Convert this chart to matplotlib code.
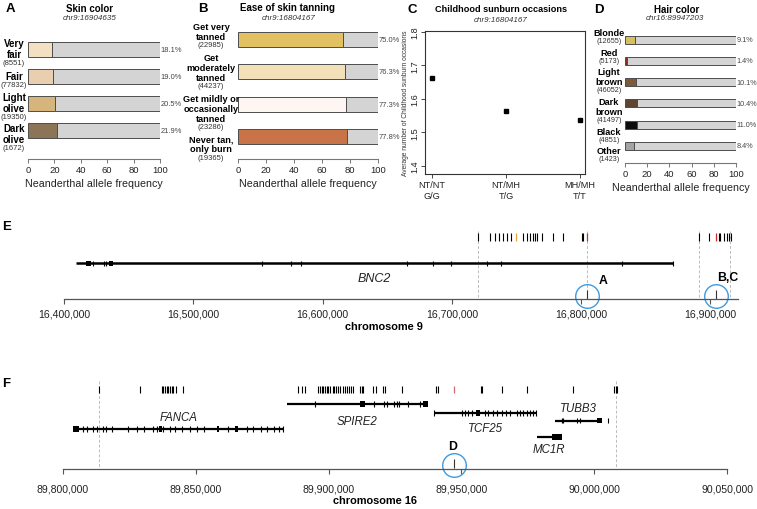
import numpy as np
import matplotlib
matplotlib.use('Agg')
import matplotlib.pyplot as plt
from matplotlib.patches import Rectangle
from matplotlib.ticker import FuncFormatter

plt.rcParams['font.family'] = ['Liberation Sans', 'DejaVu Sans']

W, H = 757, 510
GREY_BAR = '#d4d4d4'
EDGE = '#4d4d4d'
CIRCLE = '#3d9be0'

# ---- A: skin colour ----
skin_labels = ['Very\nfair', 'Fair', 'Light\nolive', 'Dark\nolive']
skin_counts = [8551, 77832, 19350, 1672]
skin_freq = [18.1, 19.0, 20.5, 21.9]
skin_colors = ['#f3dfc1', '#e9cfb0', '#d5b57b', '#8c7456']

# ---- B: ease of tanning ----
tan_labels = ['Get very\ntanned', 'Get\nmoderately\ntanned',
              'Get mildly or\noccasionally\ntanned', 'Never tan,\nonly burn']
tan_counts = [22985, 44237, 23286, 19365]
tan_freq = [75.0, 76.3, 77.3, 77.8]
tan_colors = ['#e2c163', '#f4e0b8', '#fdf6f3', '#c87448']

# ---- C: childhood sunburn ----
sunburn_groups = ['NT/NT\nG/G', 'NT/MH\nT/G', 'MH/MH\nT/T']
sunburn_mean = [1.664, 1.565, 1.538]

# ---- D: hair colour ----
hair_labels = ['Blonde', 'Red', 'Light\nbrown', 'Dark\nbrown', 'Black', 'Other']
hair_counts = [12655, 5173, 46052, 41497, 4851, 1423]
hair_freq = [9.1, 1.4, 10.1, 10.4, 11.0, 8.4]
hair_colors = ['#d8bf5e', '#8b2e22', '#7d5a38', '#5c4632', '#0d0d0d', '#a3a3a3']

# ---- E: chromosome 9 ----
chr9_ticks = [16400000, 16500000, 16600000, 16700000, 16800000, 16900000]
bnc2_span = (16409300, 16870800)
bnc2_exons = [16422200, 16430900, 16432500, 16552900, 16575600, 16583300, 16665000,
              16685400, 16699100, 16727400, 16738000, 16831800, 16870800]
bnc2_blocks = [(16417000, 16420900), (16434800, 16437900)]
chr9_snps = [16719950, 16729470, 16733340, 16736660, 16739750, 16742850, 16745710,
             16754760, 16757850, 16760400, 16762490, 16764270, 16765590, 16769920,
             16778430, 16786160, 16800390, 16801630, 16891110, 16898840, 16906300,
             16907600, 16910300, 16912900, 16914700, 16916200]
chr9_orange = [16749580]
chr9_red = [16804167, 16904635]
chr9_bounds = [16719950, 16804167, 16891360, 16915100]
chr9_hits = [16804167, 16904635]
chr9_hit_labels = ['A', 'B,C']

# ---- F: chromosome 16 ----
chr16_ticks = [89800000, 89850000, 89900000, 89950000, 90000000, 90050000]
fanca_span = (89803760, 89883250)
fanca_exons = [89807520, 89809250, 89811290, 89813020, 89815050, 89816290, 89818430,
               89824680, 89827840, 89830590, 89833860, 89835590, 89837850, 89840370,
               89842250, 89844770, 89847890, 89850410, 89853160, 89862300, 89869220,
               89871700, 89874490, 89876740, 89879490, 89881490, 89882760]
fanca_blocks = [(89803760, 89806250), (89836340, 89837240), (89857930, 89858910),
                (89864820, 89866060)]
spire2_span = (89884270, 89937540)
spire2_exons = [89894920, 89917110, 89920990, 89922110, 89924640, 89925650,
                89926630, 89930010, 89934420]
spire2_blocks = [(89911850, 89913730), (89935660, 89937540)]
tcf25_span = (89939800, 89978060)
tcf25_exons = [89939800, 89950100, 89951350, 89952590, 89953870, 89958870, 89960110,
               89962000, 89963270, 89965150, 89966770, 89968270, 89970800, 89972040,
               89973280, 89974560, 89975800, 89977040, 89978060]
tcf25_blocks = [(89955480, 89956990)]
mc1r_span = (89978320, 89987720)
mc1r_exons = []
mc1r_blocks = [(89983960, 89987720)]
tubb3_span = (89985200, 90002770)
tubb3_exons = [89987720, 89988330, 89993370, 89994610, 90005260]
tubb3_blocks = [(90000890, 90002770)]
chr16_snps = [89813770, 89829080, 89837240, 89837850, 89838490, 89839120, 89839730,
              89840370, 89841010, 89841610, 89842620, 89845140, 89888630, 89889910,
              89891150, 89896040, 89896680, 89897440, 89898040, 89898680, 89899320,
              89899920, 89900560, 89901570, 89902060, 89902810, 89903680, 89904320,
              89905340, 89906200, 89906840, 89907820, 89908460, 89909100, 89911850,
              89912480, 89913090, 89916620, 89917860, 89920610, 89921250, 89927530,
              89940440, 89941300, 89957250, 89957630, 89965150, 89974560, 89992090,
              90007510, 90008040, 90008530]
chr16_red = [89947203]
chr16_bounds = [89813770, 90008160]
chr16_hits = [89947203]
chr16_hit_labels = ['D']


fig = plt.figure(figsize=(W / 100, H / 100), dpi=100)


def px_axes(x0, y0, x1, y1):
    return fig.add_axes([x0 / W, 1 - y1 / H, (x1 - x0) / W, (y1 - y0) / H])


def ftext(x, y, s, **kw):
    kw.setdefault('ha', 'center')
    kw.setdefault('va', 'center')
    fig.text(x / W, 1 - y / H, s, **kw)


def allele_panel(box, first_c, step, bar_px, label_cx, labels, counts, freq, colors,
                 lh, ch, shift=0, stack=None, min_gap=None, name_fs=7, count_fs=5.5,
                 ls=1.2, pct_fs=5.4):
    x0, y0, x1, y1 = box
    ax = px_axes(x0, y0, x1, y1)
    pos = np.arange(len(freq))
    freq = np.asarray(freq)
    h = bar_px / step
    ax.barh(pos, freq, height=h, color=colors, edgecolor=EDGE, linewidth=0.7)
    ax.barh(pos, 100 - freq, left=freq, height=h, color=GREY_BAR, edgecolor=EDGE, linewidth=0.7)
    ax.set_xlim(0, 100)
    ax.set_ylim((y1 - first_c) / step, -(first_c - y0) / step)
    for s in ['left', 'top', 'right']:
        ax.spines[s].set_visible(False)
    ax.spines['bottom'].set_color('#777')
    ax.spines['bottom'].set_linewidth(0.8)
    ax.set_yticks([])
    ax.set_xticks(np.arange(0, 101, 20))
    ax.tick_params(axis='x', length=3, width=0.7, color='#777', labelsize=6.8, pad=1,
                   labelcolor='#222')
    ax.set_xlabel('Neanderthal allele frequency', fontsize=7.7, labelpad=3, color='#222')
    unit = 100 / (x1 - x0)
    lx = (label_cx - x0) * unit
    top = stack[0] if stack else None
    prev_bottom = -1e9
    for p, lab, n, f in zip(pos, labels, counts, freq):
        ax.text(100 + 0.8 * unit, p, f'{f:.1f}%', ha='left', va='center',
                fontsize=pct_fs, color='#444', clip_on=False)
        nl = lab.count('\n') + 1
        block = nl * lh + ch
        if stack:
            btop = top
            top += block + stack[1]
        else:
            btop = first_c + p * step + shift - block / 2
            if min_gap is not None:
                btop = max(btop, prev_bottom + min_gap)
            prev_bottom = btop + block
        anchor = (btop + nl * lh - first_c) / step
        ax.text(lx, anchor, lab, ha='center', va='bottom', fontsize=name_fs,
                fontweight='bold', linespacing=ls, clip_on=False)
        ax.text(lx, anchor, f'({n})', ha='center', va='top', fontsize=count_fs,
                color='#333', clip_on=False)
    return ax


allele_panel((28, 35, 160, 160), 50, 27.3, 15, 14,
             skin_labels, skin_counts, skin_freq, skin_colors, lh=10.5, ch=7.5, shift=3,
             min_gap=2, ls=1.15)
allele_panel((238, 25, 378, 160), 40.5, 32.3, 15, 211,
             tan_labels, tan_counts, tan_freq, tan_colors, lh=10.5, ch=9.5,
             stack=(21, 0), name_fs=6.6, ls=1.15)
allele_panel((625, 30, 736, 164), 40.7, 21.2, 8, 609,
             hair_labels, hair_counts, hair_freq, hair_colors, lh=9.8, ch=8,
             stack=(28, 2), name_fs=6.6, count_fs=5.2, ls=1.12, pct_fs=5.2)

# titles
ftext(10, 9, 'A', fontsize=9.5, fontweight='bold')
ftext(90, 9, 'Skin color', fontsize=7, fontweight='bold')
ftext(90, 19, 'chr9:16904635', fontsize=5.8, style='italic', color='#333')
ftext(203, 9, 'B', fontsize=9.5, fontweight='bold')
ftext(288, 8, 'Ease of skin tanning', fontsize=7, fontweight='bold')
ftext(289, 18, 'chr9:16804167', fontsize=5.8, style='italic', color='#333')
ftext(412, 10, 'C', fontsize=9.5, fontweight='bold')
ftext(501, 10, 'Childhood sunburn occasions', fontsize=6.6, fontweight='bold')
ftext(501, 20, 'chr9:16804167', fontsize=5.8, style='italic', color='#333')
ftext(599, 10, 'D', fontsize=9.5, fontweight='bold')
ftext(677, 10, 'Hair color', fontsize=7, fontweight='bold')
ftext(675, 19, 'chr16:89947203', fontsize=5.8, style='italic', color='#333')

# ---- C ----
ax_c = px_axes(425, 32, 585, 175)
xs = np.arange(1, len(sunburn_mean) + 1)
ax_c.plot(xs, sunburn_mean, 's', color='black', ms=3.2)
ax_c.set_xlim(0.905, 3.068)
ax_c.set_ylim(1.376, 1.803)
ax_c.set_xticks(xs)
ax_c.set_xticklabels(sunburn_groups, fontsize=6.6, linespacing=1.4, color='#222')
ax_c.set_yticks([1.4, 1.5, 1.6, 1.7, 1.8])
ax_c.set_yticklabels(['1.4', '1.5', '1.6', '1.7', '1.8'], rotation=90, va='center',
                     fontsize=6.6, color='#222')
ax_c.tick_params(length=3, width=0.7, color='#444', pad=1)
for s in ax_c.spines.values():
    s.set_linewidth(0.8)
    s.set_color('#333')
ax_c.set_ylabel('Average number of Childhood sunburn occasions', fontsize=4.8,
                labelpad=1, color='#333')

gfmt = FuncFormatter(lambda v, _: f'{int(v):,}')


def draw_gene(ax, span, exons, blocks, y, name, label_dy, lw=1.6, half=2.6, fs=8.3):
    ax.hlines(y, span[0], span[1], color='black', lw=lw)
    if exons:
        ax.vlines(exons, y - half, y + half, color='black', lw=0.8)
    for b0, b1 in blocks:
        ax.add_patch(Rectangle((b0, y - half), b1 - b0, 2 * half, color='black', lw=0))
    ax.text((span[0] + span[1]) / 2, y + label_dy, name, ha='center', va='center',
            fontsize=fs, style='italic', color='#222')


def genome_axis(ax, ticks, lo, hi, pad):
    for s in ['left', 'top', 'right']:
        ax.spines[s].set_visible(False)
    ax.spines['bottom'].set_bounds(lo, hi)
    ax.spines['bottom'].set_color('#555')
    ax.spines['bottom'].set_linewidth(0.9)
    ax.set_yticks([])
    ax.set_xticks(ticks)
    ax.xaxis.set_major_formatter(gfmt)
    ax.tick_params(axis='x', length=3.5, width=0.8, color='#555', labelsize=7.6,
                   pad=pad, labelcolor='#222')


def snp_track(ax, snps, y0, y1, colored):
    ax.vlines(snps, y0, y1, color='black', lw=0.8)
    for pts, c in colored:
        ax.vlines(pts, y0, y1, color=c, lw=0.9)


def hit_marks(ax, hits, labels, y, offsets):
    ax.vlines(hits, y - 6, y + 3, color='#333', lw=0.8)
    ax.plot(hits, [y] * len(hits), 'o', ms=17, mfc='none', mec=CIRCLE, mew=1.0,
            clip_on=False)
    for hx, lab, off in zip(hits, labels, offsets):
        ax.annotate(lab, (hx, y), xytext=off, textcoords='offset points',
                    ha='center', va='center', fontsize=8.8, fontweight='bold')


# ---- E ----
ax_e = px_axes(0, 225, W, 300)
ax_e.set_xlim(16350500, 16936000)
ax_e.set_ylim(300, 225)
genome_axis(ax_e, chr9_ticks, 16400000, 16921300, 3)
ax_e.set_xlabel('chromosome 9', fontsize=7.9, fontweight='bold')
ax_e.xaxis.set_label_coords(384 / W, -0.29)
ax_e.vlines(chr9_bounds, 232, 300, color='#bbbbbb', lw=0.7, linestyles=(0, (3, 2)))
snp_track(ax_e, chr9_snps, 234, 242, [(chr9_orange, '#e8a33c'), (chr9_red, '#d42a2a')])
draw_gene(ax_e, bnc2_span, bnc2_exons, bnc2_blocks, 264, 'BNC2', 15, lw=1.8, half=2.5, fs=9)
hit_marks(ax_e, chr9_hits, chr9_hit_labels, 297, [(12, 11.5), (8, 14)])
ftext(7, 227, 'E', fontsize=9.5, fontweight='bold')

# ---- F ----
ax_f = px_axes(0, 380, W, 469.5)
ax_f.set_xlim(89776400, 90061200)
ax_f.set_ylim(469.5, 380)
genome_axis(ax_f, chr16_ticks, 89800000, 90050000, 7)
ax_f.set_xlabel('chromosome 16', fontsize=7.9, fontweight='bold')
ax_f.xaxis.set_label_coords(375 / W, -0.3)
ax_f.vlines(chr16_bounds, 382, 469.5, color='#bbbbbb', lw=0.7, linestyles=(0, (3, 2)))
snp_track(ax_f, chr16_snps, 387, 394, [(chr16_red, '#d9676a')])
draw_gene(ax_f, fanca_span, fanca_exons, fanca_blocks, 430, 'FANCA', -11.7)
draw_gene(ax_f, spire2_span, spire2_exons, spire2_blocks, 405, 'SPIRE2', 16.7)
draw_gene(ax_f, tcf25_span, tcf25_exons, tcf25_blocks, 414, 'TCF25', 15.3)
draw_gene(ax_f, mc1r_span, mc1r_exons, mc1r_blocks, 437.7, 'MC1R', 12.3, half=2.9)
draw_gene(ax_f, tubb3_span, tubb3_exons, tubb3_blocks, 421.7, 'TUBB3', -12.4)
hit_marks(ax_f, chr16_hits, chr16_hit_labels, 466, [(-1, 14)])
ftext(6, 384, 'F', fontsize=9.5, fontweight='bold')

fig.savefig('out.png', dpi=100)
